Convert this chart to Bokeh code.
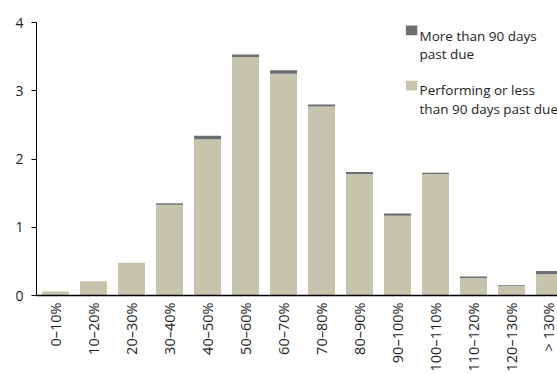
import math
from bokeh.plotting import figure
from bokeh.models import ColumnDataSource, Range1d, FixedTicker, Label, BoxAnnotation
from bokeh.embed import file_html
from bokeh.resources import INLINE

# Loan-to-value buckets and balances (share, in %)
categories = ["0–10%", "10–20%", "20–30%", "30–40%", "40–50%", "50–60%", "60–70%",
              "70–80%", "80–90%", "90–100%", "100–110%", "110–120%", "120–130%", "> 130%"]
performing = [0.06, 0.21, 0.48, 1.33, 2.29, 3.49, 3.25, 2.77, 1.78, 1.17, 1.78, 0.255, 0.14, 0.31]
past_due = [0.0, 0.0, 0.0, 0.02, 0.05, 0.04, 0.05, 0.03, 0.03, 0.03, 0.02, 0.025, 0.01, 0.05]
y_ticks = [0, 1, 2, 3, 4]

LIGHT = "#c7c4ae"
DARK = "#6c6f72"
FONT = "Open Sans"
TEXT = "#1e1e1e"

pos = [i + 0.5 for i in range(len(categories))]
src = ColumnDataSource(dict(x=pos, performing=performing, past_due=past_due))

p = figure(width=557, height=374, output_backend="svg", toolbar_location=None,
           x_range=Range1d(0, 13.71), y_range=Range1d(0, 4),
           min_border_left=36, min_border_right=0, min_border_top=22, min_border_bottom=0)
p.outline_line_color = None
p.background_fill_color = "white"
p.border_fill_color = "white"
p.grid.visible = False

p.vbar_stack(["performing", "past_due"], x="x", width=0.71, source=src,
             color=[LIGHT, DARK], line_color=None)

# x axis: bucket names, rotated to read upwards
p.xaxis.ticker = FixedTicker(ticks=pos)
p.xaxis.major_label_overrides = {x: c for x, c in zip(pos, categories)}
p.xaxis.major_label_orientation = math.pi / 2
p.xaxis.major_tick_line_color = None
p.xaxis.major_tick_out = 0
p.xaxis.major_tick_in = 0
p.xaxis.minor_tick_line_color = None
p.xaxis.axis_line_color = "black"
p.xaxis.axis_line_width = 1.5
p.xaxis.major_label_standoff = 7
p.xaxis.major_label_text_font = FONT
p.xaxis.major_label_text_font_size = "14.5px"
p.xaxis.major_label_text_color = TEXT

# y axis
p.yaxis.ticker = FixedTicker(ticks=y_ticks)
p.yaxis.major_tick_out = 5
p.yaxis.major_tick_in = 0
p.yaxis.minor_tick_line_color = None
p.yaxis.axis_line_color = "black"
p.yaxis.major_label_standoff = 8
p.yaxis.major_label_text_font = FONT
p.yaxis.major_label_text_font_size = "14px"
p.yaxis.major_label_text_color = TEXT

# legend drawn as swatches and text lines
legend_rows = [
    (DARK, 3.955, 3.815, ["More than 90 days", "past due"], [3.808, 3.545]),
    (LIGHT, 3.145, 3.005, ["Performing or less", "than 90 days past due"], [3.004, 2.734]),
]
for color, top, bottom, lines, baselines in legend_rows:
    p.add_layout(BoxAnnotation(left=9.72, right=10.02, top=top, bottom=bottom,
                               fill_color=color, fill_alpha=1, line_color=None))
    for txt, yb in zip(lines, baselines):
        p.add_layout(Label(x=10.08, y=yb, text=txt, text_font=FONT, text_font_size="13.5px",
                           text_color=TEXT, text_baseline="alphabetic", text_align="left"))

open("out.html", "w").write(file_html(p, INLINE))
